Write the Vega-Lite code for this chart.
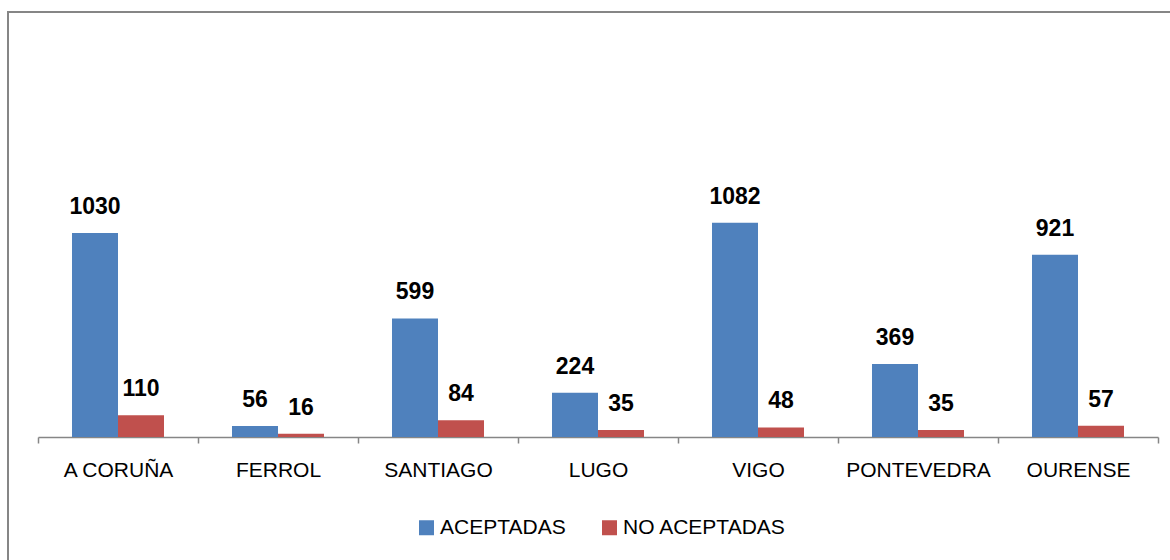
{
  "$schema": "https://vega.github.io/schema/vega-lite/v6.json",
  "autosize": "none",
  "width": 1170,
  "height": 560,
  "padding": {"left": 8, "top": 12, "right": -8, "bottom": -12},
  "background": "white",
  "data": {
    "values": [
      {"ciudad": "A CORUÑA", "tipo": "ACEPTADAS", "valor": 1030},
      {"ciudad": "A CORUÑA", "tipo": "NO ACEPTADAS", "valor": 110},
      {"ciudad": "FERROL", "tipo": "ACEPTADAS", "valor": 56},
      {"ciudad": "FERROL", "tipo": "NO ACEPTADAS", "valor": 16},
      {"ciudad": "SANTIAGO", "tipo": "ACEPTADAS", "valor": 599},
      {"ciudad": "SANTIAGO", "tipo": "NO ACEPTADAS", "valor": 84},
      {"ciudad": "LUGO", "tipo": "ACEPTADAS", "valor": 224},
      {"ciudad": "LUGO", "tipo": "NO ACEPTADAS", "valor": 35},
      {"ciudad": "VIGO", "tipo": "ACEPTADAS", "valor": 1082},
      {"ciudad": "VIGO", "tipo": "NO ACEPTADAS", "valor": 48},
      {"ciudad": "PONTEVEDRA", "tipo": "ACEPTADAS", "valor": 369},
      {"ciudad": "PONTEVEDRA", "tipo": "NO ACEPTADAS", "valor": 35},
      {"ciudad": "OURENSE", "tipo": "ACEPTADAS", "valor": 921},
      {"ciudad": "OURENSE", "tipo": "NO ACEPTADAS", "valor": 57}
    ]
  },
  "encoding": {
    "x": {
      "field": "ciudad",
      "type": "nominal",
      "sort": null,
      "scale": {"range": [30, 1150], "paddingInner": 0, "paddingOuter": 0},
      "axis": {
        "title": null,
        "labelAngle": 0,
        "labelFontSize": 21,
        "labelFont": "Liberation Sans",
        "labelColor": "#000000",
        "labelPadding": 16,
        "domainColor": "#868686",
        "domainWidth": 1.5,
        "tickColor": "#868686",
        "tickWidth": 1.5,
        "tickSize": 6,
        "tickBand": "extent",
        "offset": -135,
        "grid": false
      }
    },
    "xOffset": {
      "field": "tipo",
      "type": "nominal",
      "scale": {"paddingInner": 0, "paddingOuter": 0.739}
    },
    "y": {
      "field": "valor",
      "type": "quantitative",
      "scale": {"domain": [0, 2000], "range": [425, 29], "nice": false},
      "axis": null
    }
  },
  "layer": [
    {
      "mark": {"type": "bar"},
      "encoding": {
        "color": {
          "field": "tipo",
          "type": "nominal",
          "scale": {"domain": ["ACEPTADAS", "NO ACEPTADAS"], "range": ["#4F81BD", "#C0504D"]},
          "legend": {
            "title": null,
            "orient": "none",
            "direction": "horizontal",
            "legendX": 408,
            "legendY": 505,
            "symbolType": "square",
            "symbolSize": 225,
            "symbolStrokeWidth": 0,
            "labelFontSize": 21,
            "labelFont": "Liberation Sans",
            "labelColor": "#000000",
            "labelOffset": 3,
            "columnPadding": 33,
            "labelLimit": 400
          }
        }
      }
    },
    {
      "mark": {
        "type": "text",
        "baseline": "alphabetic",
        "dy": -19,
        "font": "Liberation Sans",
        "fontSize": 23,
        "fontWeight": "bold",
        "color": "#000000"
      },
      "encoding": {
        "text": {"field": "valor", "type": "quantitative"}
      }
    }
  ],
  "config": {
    "view": {"stroke": "#868686", "strokeWidth": 2},
    "axis": {"grid": false}
  }
}
